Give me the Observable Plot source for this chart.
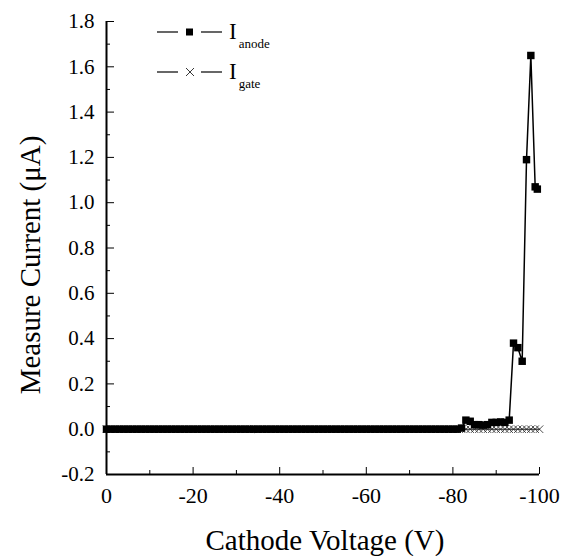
<!DOCTYPE html>
<html><head><meta charset="utf-8">
<script src="https://cdn.jsdelivr.net/npm/d3@7"></script>
<script src="https://cdn.jsdelivr.net/npm/@observablehq/plot@0.6"></script>
<style>
body{margin:0;background:#fff}
svg, svg text { font-family: "Liberation Serif", "Times New Roman", serif !important; }
</style>
</head><body><div id="chart"></div>
<script>
// Anode current (µA) vs cathode voltage (V)
const anodeVoltage = [0,-1,-2,-3,-4,-5,-6,-7,-8,-9,-10,-11,-12,-13,-14,-15,-16,-17,-18,-19,-20,-21,-22,-23,-24,-25,-26,-27,-28,-29,-30,-31,-32,-33,-34,-35,-36,-37,-38,-39,-40,-41,-42,-43,-44,-45,-46,-47,-48,-49,-50,-51,-52,-53,-54,-55,-56,-57,-58,-59,-60,-61,-62,-63,-64,-65,-66,-67,-68,-69,-70,-71,-72,-73,-74,-75,-76,-77,-78,-79,-80,-81,-82,-83,-84,-85,-86,-87,-88,-89,-90,-91,-92,-93,-94,-95,-96,-97,-98,-99,-99.5];
const anodeCurrent = [0,0,0,0,0,0,0,0,0,0,0,0,0,0,0,0,0,0,0,0,0,0,0,0,0,0,0,0,0,0,0,0,0,0,0,0,0,0,0,0,0,0,0,0,0,0,0,0,0,0,0,0,0,0,0,0,0,0,0,0,0,0,0,0,0,0,0,0,0,0,0,0,0,0,0,0,0,0,0,0,0,0,0.005,0.04,0.035,0.02,0.02,0.018,0.02,0.03,0.03,0.032,0.03,0.04,0.38,0.36,0.30,1.19,1.65,1.07,1.06];
// Gate current (µA) vs cathode voltage (V)
const gateVoltage = [0,-1,-2,-3,-4,-5,-6,-7,-8,-9,-10,-11,-12,-13,-14,-15,-16,-17,-18,-19,-20,-21,-22,-23,-24,-25,-26,-27,-28,-29,-30,-31,-32,-33,-34,-35,-36,-37,-38,-39,-40,-41,-42,-43,-44,-45,-46,-47,-48,-49,-50,-51,-52,-53,-54,-55,-56,-57,-58,-59,-60,-61,-62,-63,-64,-65,-66,-67,-68,-69,-70,-71,-72,-73,-74,-75,-76,-77,-78,-79,-80,-81,-82,-83,-84,-85,-86,-87,-88,-89,-90,-91,-92,-93,-94,-95,-96,-97,-98,-99,-100];
const gateCurrent = [0,0,0,0,0,0,0,0,0,0,0,0,0,0,0,0,0,0,0,0,0,0,0,0,0,0,0,0,0,0,0,0,0,0,0,0,0,0,0,0,0,0,0,0,0,0,0,0,0,0,0,0,0,0,0,0,0,0,0,0,0,0,0,0,0,0,0,0,0,0,0,0,0,0,0,0,0,0,0,0,0,0,0,0,0,0,0,0,0,0,0,0,0,0,0,0,0,0,0,0,0];

const xMajor = [0,-20,-40,-60,-80,-100];
const xMinor = [-10,-30,-50,-70,-90];
const yMajor = [-0.2,0,0.2,0.4,0.6,0.8,1.0,1.2,1.4,1.6,1.8];
const yMinor = [-0.1,0.1,0.3,0.5,0.7,0.9,1.1,1.3,1.5,1.7];
const seriesNames = ["anode", "gate"];

const anode = anodeVoltage.map((v,i)=>({v, c: anodeCurrent[i]}));
const gate = gateVoltage.map((v,i)=>({v, c: gateCurrent[i]}));

const plot = Plot.plot({
  width: 567, height: 556,
  marginLeft: 106, marginRight: 28, marginTop: 21, marginBottom: 82,
  x: {domain: [0, -100]},
  y: {domain: [-0.2, 1.8]},
  style: {fontSize: "21px", background: "white", color: "black"},
  marks: [
    Plot.axisX(xMajor, {tickSize: 0, tickPadding: 13, tickFormat: d => String(d), label: null, fontSize: 22}),
    Plot.axisX(xMajor, {tickSize: -7, tickFormat: () => "", label: null}),
    Plot.axisX(xMinor, {tickSize: -4, tickFormat: () => "", label: null}),
    Plot.axisY(yMajor, {tickSize: 0, tickPadding: 12, tickFormat: d => d.toFixed(1), label: null, fontSize: 21}),
    Plot.axisY(yMajor, {tickSize: -8, tickFormat: () => "", label: null}),
    Plot.axisY(yMinor, {tickSize: -4, tickFormat: () => "", label: null}),
    Plot.ruleX([0], {stroke: "black", strokeWidth: 2}),
    Plot.ruleY([-0.2], {stroke: "black", strokeWidth: 2}),
    Plot.line(gate, {x: "v", y: "c", stroke: "black", strokeWidth: 1}),
    Plot.dot(gate, {x: "v", y: "c", symbol: "times", r: 3.5, stroke: "#222", strokeWidth: 0.8}),
    Plot.line(anode, {x: "v", y: "c", stroke: "black", strokeWidth: 1.5}),
    Plot.dot(anode, {x: "v", y: "c", symbol: "square", r: 4.2, fill: "black", stroke: "none"}),
    Plot.text(["Cathode Voltage (V)"], {frameAnchor: "bottom", lineAnchor: "middle", textAnchor: "middle", dy: 66, dx: 2, fontSize: 29}),
    Plot.text(["Measure Current (\u03bcA)"], {frameAnchor: "left", textAnchor: "middle", lineAnchor: "middle", dx: -76, dy: 17, rotate: -90, fontSize: 29})
  ]
});
document.getElementById("chart").appendChild(plot);

// Legend
const svg = d3.select(plot);
const lg = svg.append("g").attr("fill", "black").attr("text-anchor", "start");
const rowY = [32, 72];
seriesNames.forEach((name, k) => {
  const y = rowY[k];
  lg.append("line").attr("x1", 157).attr("x2", 178).attr("y1", y).attr("y2", y).attr("stroke", "black").attr("stroke-width", 1.2);
  lg.append("line").attr("x1", 201).attr("x2", 222).attr("y1", y).attr("y2", y).attr("stroke", "black").attr("stroke-width", 1.2);
  if (k === 0) {
    lg.append("rect").attr("x", 186).attr("y", y - 3.5).attr("width", 7).attr("height", 7).attr("fill", "black");
  } else {
    lg.append("path").attr("d", `M${186},${y-4}L${194},${y+4}M${194},${y-4}L${186},${y+4}`).attr("stroke", "#222").attr("stroke-width", 0.9);
  }
  const t = lg.append("text").attr("x", 229).attr("y", y + 7).attr("font-size", 23).attr("text-anchor", "start");
  t.append("tspan").text("I");
  t.append("tspan").attr("dx", 2).attr("dy", 9).attr("font-size", 13).text(name);
});
</script>
</body></html>
